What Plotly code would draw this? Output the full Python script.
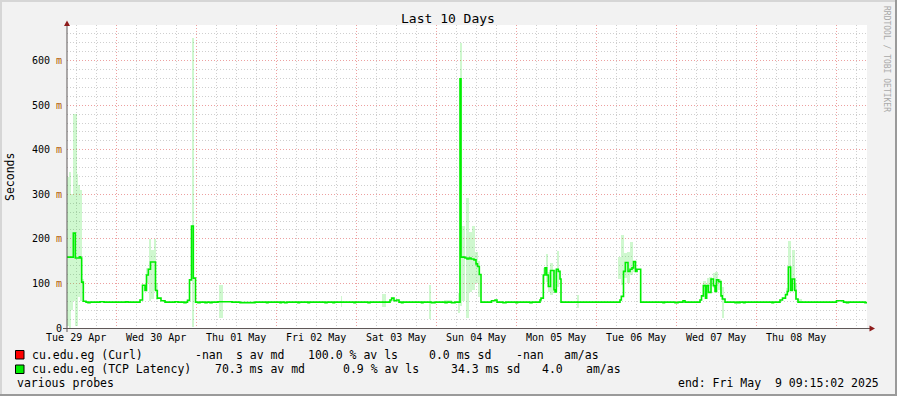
import plotly.graph_objects as go
import pandas as pd

# ---------------- data ----------------
START = pd.Timestamp("2025-04-29 09:15:02")
END = pd.Timestamp("2025-05-09 09:15:02")

# median round-trip (TCP Latency), step changes: hours since START, value in ms
md_hours = [
    0.0, 1.9, 2.5, 3.7, 4.1, 4.4, 4.9,
    5.7, 6.3, 6.9, 9.9, 11.1, 17.7, 18.3,
    21.9, 22.65, 23.4, 23.85, 24.4, 25.05, 26.55, 27.1, 28.2, 29.4,
    32.4, 33.3, 35.1, 35.7,
    36.15, 36.75, 37.35, 37.9, 38.55,
    39.3, 39.9, 41.4, 42.0, 42.9, 43.5, 45.3, 49.5, 51.9, 56.4,
    59.85, 60.3, 63.9, 64.35, 65.25, 66.0, 69.3, 69.75, 72.3, 72.75,
    77.4, 78.0, 79.8, 80.25, 86.1, 86.55, 90.3, 90.9,
    96.9, 97.4, 98.1, 98.85, 99.6, 100.35, 100.8,
    106.35, 106.8, 109.35, 110.4, 113.4, 114.0, 115.35, 116.4,
    117.9, 118.2, 119.4, 120.0, 120.6, 121.2, 122.1, 122.7, 123.15, 123.7, 124.2,
    127.35, 128.4, 129.0, 130.8, 131.7, 134.7, 135.15, 138.9, 139.5,
    141.9, 142.2, 142.9, 143.4, 143.9, 144.4, 145.05, 146.1, 146.4, 146.8, 147.4, 147.9, 148.2,
    165.9, 166.3, 166.95, 167.5, 168.3, 168.9, 169.5, 169.95, 170.55, 171.0, 172.1,
    178.8, 179.25, 182.4, 183.3, 184.8, 185.4,
    189.9, 190.35, 190.9, 191.55, 191.9, 192.45, 193.2, 193.9, 194.4, 194.85, 195.5, 196.2, 196.6, 197.4,
    200.4, 201.0, 201.45, 201.9, 202.95, 203.4, 211.5, 211.95,
    213.9, 214.65, 215.55, 216.1, 216.4, 217.1, 217.6, 218.3, 218.7, 219.3,
    230.85, 232.95, 233.85, 234.45, 239.4, 240.0,
]
md_ms = [
    159, 213, 157, 160, 157, 103, 60,
    58, 57, 58, 59, 58, 59, 58,
    63, 96, 84, 119, 132, 148, 84, 67, 61, 58,
    59, 58, 57, 58,
    62, 108, 229, 112, 58,
    57, 58, 57, 58, 57, 58, 59, 58, 57, 58,
    57, 58, 57, 58, 57, 58, 57, 58, 57, 58,
    57, 58, 57, 58, 57, 58, 57, 58,
    63, 67, 61, 63, 58, 57, 58,
    57, 58, 57, 58, 57, 58, 57, 58,
    559, 159, 157, 155, 157, 155, 153, 144, 138, 120, 58,
    61, 63, 58, 57, 58, 57, 58, 57, 58,
    63, 67, 119, 135, 119, 93, 129, 86, 81, 132, 127, 110, 58,
    63, 71, 127, 147, 127, 132, 135, 149, 127, 132, 58,
    57, 58, 57, 58, 61, 58,
    63, 72, 95, 67, 95, 80, 110, 95, 82, 108, 104, 72, 65, 58,
    57, 58, 57, 58, 57, 58, 57, 58,
    63, 67, 75, 82, 137, 84, 110, 84, 65, 58,
    61, 58, 57, 58, 57, 57,
]

# smoke (spread of the pings): start/end hours since START, low/high in ms
smoke_h0 = [0.0, 0.6, 1.2, 1.8, 2.4, 2.85, 3.3, 3.9, 4.5,
            23.7, 24.6, 25.2, 26.1, 26.7,
            37.35, 45.45,
            82.05, 94.5, 108.45, 113.1,
            117.3, 117.9, 118.5, 119.7, 120.6, 121.5, 122.4, 123.3,
            142.8, 143.55, 144.3, 144.9, 145.8, 147.0, 152.9,
            165.3, 166.3, 167.1, 168.0, 168.9, 169.65,
            190.8, 191.9, 192.6, 193.7, 194.4, 195.3, 196.35,
            215.7, 216.4, 217.35, 218.25, 219.0]
smoke_h1 = [0.6, 1.2, 1.8, 2.4, 2.85, 3.3, 3.9, 4.5, 5.1,
            24.6, 25.2, 26.1, 26.7, 27.15,
            38.1, 46.65,
            82.5, 95.7, 109.2, 115.5,
            117.75, 118.5, 119.4, 120.6, 121.5, 122.4, 123.3, 123.9,
            143.4, 144.15, 144.9, 145.7, 146.7, 147.7, 153.6,
            166.2, 167.1, 167.9, 168.9, 169.65, 170.4,
            191.7, 192.6, 193.5, 194.25, 195.3, 196.2, 197.1,
            216.3, 217.2, 218.25, 219.0, 220.5]
smoke_lo_ms = [5, 0, 40, 60, 5, 5, 70, 60, 58,
               100, 61, 65, 85, 63,
               3, 22,
               48, 47, 20, 55,
               34, 50, 60, 22, 80, 85, 100, 70,
               100, 104, 80, 75, 78, 93, 45,
               110, 97, 112, 101, 119, 125,
               70, 85, 95, 90, 95, 85, 22,
               75, 82, 85, 62, 58]
smoke_hi_ms = [340, 350, 300, 480, 480, 345, 320, 310, 110,
               135, 200, 175, 200, 100,
               650, 96,
               72, 76, 97, 62,
               78, 640, 230, 291, 215, 230, 170, 150,
               135, 165, 125, 145, 130, 172, 75,
               160, 209, 168, 170, 194, 150,
               105, 113, 115, 123, 125, 110, 93,
               90, 196, 176, 100, 66]

y_tick_ms = [0, 100, 200, 300, 400, 500, 600]

title_text = "Last 10 Days"
y_title = "Seconds"
side_text = "RRDTOOL / TOBI OETIKER"
legend_line1 = ["cu.edu.eg (Curl)", "-nan", "s av md", "100.0 % av ls", "0.0 ms sd", "-nan", "am/as"]
legend_line2 = ["cu.edu.eg (TCP Latency)", "70.3 ms av md", "0.9 % av ls", "34.3 ms sd", "4.0", "am/as"]
footer_left = "various probes"
footer_right = "end: Fri May  9 09:15:02 2025"

# ---------------- layout geometry ----------------
W, H = 897, 396
L, R, T, B = 67, 30, 25, 68
PW = W - L - R
PH = H - T - B


def px(xp):
    return (xp - L) / PW


def py(yp):
    return (H - B - yp) / PH


MONO = "DejaVu Sans Mono"
BG = "#f2f2f2"

md_x = [START + pd.Timedelta(hours=h) for h in md_hours]
md_y = [v / 1000 for v in md_ms]

sm_x = [START + pd.Timedelta(hours=(a + b) / 2) for a, b in zip(smoke_h0, smoke_h1)]
sm_w = [(b - a) * 3600 * 1000 for a, b in zip(smoke_h0, smoke_h1)]
sm_base = [lo / 1000 for lo in smoke_lo_ms]
sm_h = [(hi - lo) / 1000 for lo, hi in zip(smoke_lo_ms, smoke_hi_ms)]

fig = go.Figure()
fig.add_trace(go.Bar(x=sm_x, y=sm_h, base=sm_base, width=sm_w,
                     marker=dict(color="rgba(0,220,0,0.19)", line=dict(width=0)),
                     hoverinfo="skip", showlegend=False))
fig.add_trace(go.Scatter(x=md_x, y=md_y, mode="lines", line_shape="hv",
                         line=dict(color="#00ee00", width=1.6),
                         hoverinfo="skip", showlegend=False))

tickvals = [v / 1000 for v in y_tick_ms]
ticktext = [("0" if v == 0 else f"{v} <span style='color:#b35900'>m</span>") for v in y_tick_ms]

fig.update_layout(
    width=W, height=H,
    margin=dict(l=L, r=R, t=T, b=B, pad=0),
    paper_bgcolor=BG, plot_bgcolor="white",
    barmode="overlay", bargap=0,
    showlegend=False,
    font=dict(family=MONO, color="#000000"),
    xaxis=dict(
        type="date", range=[START, END],
        dtick=86400000, tick0="2025-04-29 00:00:00",
        ticklabelmode="period", tickformat="%a %d %b",
        tickfont=dict(family=MONO, size=10, color="#000000"),
        showgrid=True, gridcolor="#eda0a0", griddash="1px,2px", gridwidth=1,
        minor=dict(dtick=6 * 3600 * 1000, tick0="2025-04-29 00:00:00",
                   showgrid=True, gridcolor="#cfcfcf", griddash="1px,2px", gridwidth=1),
        showline=False, zeroline=False, ticks="", ticklabelstandoff=2, fixedrange=True,
    ),
    yaxis=dict(
        range=[0, 0.68],
        tickvals=tickvals, ticktext=ticktext,
        tickfont=dict(family=MONO, size=10, color="#000000"),
        showgrid=True, gridcolor="#eda0a0", griddash="1px,2px", gridwidth=1,
        minor=dict(dtick=0.02, tick0=0, showgrid=True, gridcolor="#cfcfcf",
                   griddash="1px,2px", gridwidth=1),
        showline=False, zeroline=False, ticks="", ticklabelstandoff=4, fixedrange=True,
    ),
)

shapes = []
# 3D frame
shapes.append(dict(type="line", xref="paper", yref="paper", x0=px(0), x1=px(W), y0=py(1), y1=py(1),
                   line=dict(color="#d6d6d6", width=2)))
shapes.append(dict(type="line", xref="paper", yref="paper", x0=px(1), x1=px(1), y0=py(0), y1=py(H),
                   line=dict(color="#d6d6d6", width=2)))
shapes.append(dict(type="line", xref="paper", yref="paper", x0=px(0), x1=px(W), y0=py(H - 1), y1=py(H - 1),
                   line=dict(color="#9a9a9a", width=2)))
shapes.append(dict(type="line", xref="paper", yref="paper", x0=px(W - 1), x1=px(W - 1), y0=py(0), y1=py(H),
                   line=dict(color="#9a9a9a", width=2)))
# axes
shapes.append(dict(type="line", xref="paper", yref="paper", x0=px(63), x1=px(870), y0=py(328.5), y1=py(328.5),
                   line=dict(color="#5f5858", width=1)))
shapes.append(dict(type="line", xref="paper", yref="paper", x0=px(67), x1=px(67), y0=py(332), y1=py(23),
                   line=dict(color="#5f5858", width=1)))
# arrows
shapes.append(dict(type="path", xref="paper", yref="paper",
                   path=f"M {px(67)},{py(20.5)} L {px(64)},{py(26)} L {px(70)},{py(26)} Z",
                   fillcolor="#8e1b1b", line=dict(width=0)))
shapes.append(dict(type="path", xref="paper", yref="paper",
                   path=f"M {px(875)},{py(328.5)} L {px(869.5)},{py(325.5)} L {px(869.5)},{py(331.5)} Z",
                   fillcolor="#8e1b1b", line=dict(width=0)))
# legend swatches
shapes.append(dict(type="rect", xref="paper", yref="paper", x0=px(15.5), x1=px(24), y0=py(350.5), y1=py(359),
                   fillcolor="#ff0000", line=dict(color="#000000", width=1)))
shapes.append(dict(type="rect", xref="paper", yref="paper", x0=px(15.5), x1=px(24), y0=py(365), y1=py(373.5),
                   fillcolor="#00ee00", line=dict(color="#000000", width=1)))
fig.update_layout(shapes=shapes)

ann = []


def text(s, x, y, xanchor="left", size=11.5, color="#000000", angle=0):
    ann.append(dict(text=s, xref="paper", yref="paper", x=px(x), y=py(y), xanchor=xanchor,
                    yanchor="middle", showarrow=False, borderpad=0, textangle=angle,
                    font=dict(family=MONO, size=size, color=color)))


text(title_text, 447.5, 19, xanchor="center", size=13)
text(y_title, 10, 177, xanchor="center", size=11.5, angle=-90)
text(side_text, 887, 59, xanchor="center", size=8, color="#a9a9a9", angle=90)

line1_x = [31, 194, 235, 307, 428, 515, 563]
line2_x = [31, 214, 342, 450, 541, 585]
for s, x in zip(legend_line1, line1_x):
    text(s.replace(" ", "&nbsp;"), x, 354.5)
for s, x in zip(legend_line2, line2_x):
    text(s.replace(" ", "&nbsp;"), x, 369)
text(footer_left, 16, 382.5)
text(footer_right.replace(" ", "&nbsp;"), 880, 382.5, xanchor="right")
fig.update_layout(annotations=ann)

fig.write_html("out.html", config={"displayModeBar": False},
               post_script="document.body.style.margin='0';document.body.style.overflow='hidden';")
